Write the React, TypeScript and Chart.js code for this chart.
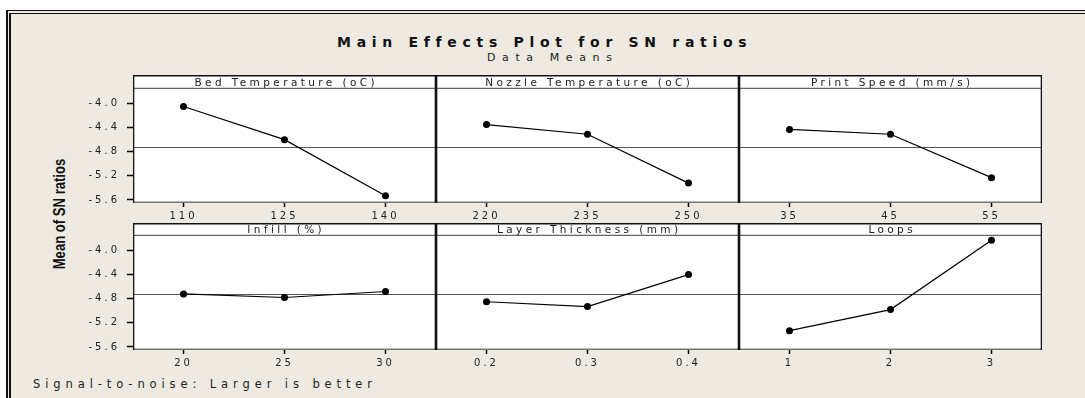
import React, { useEffect, useRef } from 'react';
import { Chart, registerables } from 'chart.js';

Chart.register(...registerables);

// ---------- data ----------
const PANEL_TITLES = [
  'Bed Temperature (oC)',
  'Nozzle Temperature (oC)',
  'Print Speed (mm/s)',
  'Infill (%)',
  'Layer Thickness (mm)',
  'Loops',
];
const BED_LEVELS = ['110', '125', '140'];
const BED_SN = [-4.05, -4.6, -5.53];
const NOZZLE_LEVELS = ['220', '235', '250'];
const NOZZLE_SN = [-4.35, -4.51, -5.32];
const SPEED_LEVELS = ['35', '45', '55'];
const SPEED_SN = [-4.43, -4.51, -5.23];
const INFILL_LEVELS = ['20', '25', '30'];
const INFILL_SN = [-4.72, -4.78, -4.68];
const LAYER_LEVELS = ['0.2', '0.3', '0.4'];
const LAYER_SN = [-4.85, -4.93, -4.4];
const LOOPS_LEVELS = ['1', '2', '3'];
const LOOPS_SN = [-5.33, -4.98, -3.83];

const Y_TICKS = [-5.6, -5.2, -4.8, -4.4, -4.0];
const Y_MIN = -5.65;
const Y_MAX = -3.76;

const ALL_SN = [...BED_SN, ...NOZZLE_SN, ...SPEED_SN, ...INFILL_SN, ...LAYER_SN, ...LOOPS_SN];
const OVERALL_MEAN = ALL_SN.reduce((a, b) => a + b, 0) / ALL_SN.length;

const TITLE = 'Main Effects Plot for SN ratios';
const SUBTITLE = 'Data Means';
const Y_TITLE = 'Mean of SN ratios';
const FOOTNOTE = 'Signal-to-noise: Larger is better';

// ---------- layout ----------
const COL_LEFT = [133, 436, 739];
const COL_W = 303;
const ROW_TOP = [75, 223];
const STRIP_H = [14, 13];
const PLOT_H = 114;
const CANVAS_H = [147, 150];
const Y_AXIS_W = 53;
const FONT = "'DejaVu Sans', Verdana, sans-serif";

const panelPlugin = {
  id: 'panelFrame',
  beforeDraw(chart: any) {
    const ctx = chart.ctx;
    const a = chart.chartArea;
    ctx.save();
    ctx.fillStyle = '#ffffff';
    ctx.fillRect(a.left, 0, a.right - a.left, a.bottom);
    ctx.restore();
    ctx.letterSpacing = '3px';
  },
  beforeDatasetsDraw(chart: any) {
    const ctx = chart.ctx;
    const a = chart.chartArea;
    const y = Math.round(chart.scales.y.getPixelForValue(OVERALL_MEAN)) + 0.5;
    ctx.save();
    ctx.strokeStyle = '#555';
    ctx.lineWidth = 1;
    ctx.beginPath();
    ctx.moveTo(a.left, y);
    ctx.lineTo(a.right, y);
    ctx.stroke();
    ctx.restore();
  },
  afterDraw(chart: any) {
    const ctx = chart.ctx;
    const a = chart.chartArea;
    const title = chart.options.plugins.panelFrame.title;
    ctx.save();
    // strip bottom
    ctx.strokeStyle = '#666';
    ctx.lineWidth = 1.2;
    ctx.beginPath();
    ctx.moveTo(a.left, a.top - 0.6);
    ctx.lineTo(a.right, a.top - 0.6);
    ctx.stroke();
    // bottom
    ctx.strokeStyle = '#777';
    ctx.lineWidth = 1.5;
    ctx.beginPath();
    ctx.moveTo(a.left, a.bottom - 0.75);
    ctx.lineTo(a.right, a.bottom - 0.75);
    ctx.stroke();
    // top
    ctx.strokeStyle = '#111';
    ctx.lineWidth = 1.5;
    ctx.beginPath();
    ctx.moveTo(a.left, 0.75);
    ctx.lineTo(a.right, 0.75);
    ctx.stroke();
    // sides
    ctx.lineWidth = 1.3;
    ctx.beginPath();
    ctx.moveTo(a.left + 0.65, 0);
    ctx.lineTo(a.left + 0.65, a.bottom);
    ctx.moveTo(a.right - 0.65, 0);
    ctx.lineTo(a.right - 0.65, a.bottom);
    ctx.stroke();
    // strip text
    ctx.letterSpacing = '3.4px';
    ctx.fillStyle = '#1a1a1a';
    ctx.font = `10.5px ${FONT}`;
    ctx.textAlign = 'center';
    ctx.textBaseline = 'middle';
    ctx.fillText(title, (a.left + a.right) / 2 + 1.7, a.top / 2 + 0.8);
    ctx.restore();
  },
};

type PanelProps = {
  title: string;
  labels: string[];
  values: number[];
  col: number;
  row: number;
};

function Panel({ title, labels, values, col, row }: PanelProps) {
  const ref = useRef<HTMLCanvasElement | null>(null);
  const showY = col === 0;
  const yW = showY ? Y_AXIS_W : 0;
  const left = COL_LEFT[col] - yW;
  const width = yW + COL_W;
  const height = CANVAS_H[row];
  const top = ROW_TOP[row];
  const stripH = STRIP_H[row];
  const axisH = height - stripH - PLOT_H;

  useEffect(() => {
    if (!ref.current) return;
    const chart = new Chart(ref.current, {
      type: 'line',
      data: {
        labels,
        datasets: [
          {
            data: values,
            borderColor: '#000',
            backgroundColor: '#000',
            borderWidth: 1.2,
            pointRadius: 3.5,
            pointBorderWidth: 0,
            pointBackgroundColor: '#000',
            tension: 0,
          },
        ],
      },
      options: {
        animation: false,
        responsive: false,
        maintainAspectRatio: false,
        events: [],
        layout: { padding: { top: stripH, left: 0, right: 0, bottom: 0 }, autoPadding: false },
        plugins: {
          legend: { display: false },
          tooltip: { enabled: false },
          title: { display: false },
          panelFrame: { title },
        } as any,
        scales: {
          x: {
            type: 'category',
            offset: true,
            grid: {
              display: true,
              offset: false,
              drawOnChartArea: false,
              drawTicks: true,
              tickLength: 4,
              color: '#000',
              tickWidth: 1.5,
            },
            border: { display: false },
            ticks: {
              font: { family: FONT, size: 10 },
              color: '#222',
              padding: 3,
              maxRotation: 0,
              autoSkip: false,
            },
            afterFit: (s: any) => {
              s.height = axisH;
            },
          },
          y: {
            type: 'linear',
            display: showY,
            min: Y_MIN,
            max: Y_MAX,
            afterBuildTicks: (s: any) => {
              s.ticks = Y_TICKS.map((v) => ({ value: v }));
            },
            grid: {
              display: true,
              drawOnChartArea: false,
              drawTicks: true,
              tickLength: 6,
              color: '#000',
              tickWidth: 1.5,
            },
            border: { display: false },
            ticks: {
              font: { family: FONT, size: 10 },
              color: '#222',
              padding: 7,
              callback: (v: any) => Number(v).toFixed(1),
            },
            afterFit: (s: any) => {
              s.width = yW;
            },
          },
        },
      },
      plugins: [panelPlugin],
    });
    return () => chart.destroy();
  }, []);

  return (
    <canvas
      ref={ref}
      width={width}
      height={height}
      style={{ position: 'absolute', left, top, width, height }}
    />
  );
}

export default function App() {
  const panels = [
    { title: PANEL_TITLES[0], labels: BED_LEVELS, values: BED_SN },
    { title: PANEL_TITLES[1], labels: NOZZLE_LEVELS, values: NOZZLE_SN },
    { title: PANEL_TITLES[2], labels: SPEED_LEVELS, values: SPEED_SN },
    { title: PANEL_TITLES[3], labels: INFILL_LEVELS, values: INFILL_SN },
    { title: PANEL_TITLES[4], labels: LAYER_LEVELS, values: LAYER_SN },
    { title: PANEL_TITLES[5], labels: LOOPS_LEVELS, values: LOOPS_SN },
  ];
  return (
    <div
      style={{
        position: 'absolute',
        left: 0,
        top: 0,
        width: 1085,
        height: 398,
        overflow: 'hidden',
        background: '#ffffff',
        fontFamily: FONT,
      }}
    >
      <div
        style={{
          position: 'absolute',
          left: 6,
          top: 10,
          width: 1100,
          height: 420,
          background: '#EEEAE1',
          borderLeft: '5px double #111',
          borderTop: '4px double #111',
        }}
      />
      <div
        style={{
          position: 'absolute',
          left: 337,
          top: 34,
          lineHeight: '16px',
          fontSize: 14,
          fontWeight: 'bold',
          letterSpacing: '5.7px',
          whiteSpace: 'nowrap',
          color: '#111',
        }}
      >
        {TITLE}
      </div>
      <div
        style={{
          position: 'absolute',
          left: 487,
          top: 51,
          lineHeight: '14px',
          fontSize: 11,
          letterSpacing: '6.6px',
          whiteSpace: 'nowrap',
          color: '#222',
        }}
      >
        {SUBTITLE}
      </div>
      <div
        style={{
          position: 'absolute',
          left: 60,
          top: 214,
          transform: 'translate(-50%, -50%) rotate(-90deg) scale(0.77, 1)',
          fontFamily: "'Liberation Sans', Arial, sans-serif",
          fontWeight: 'bold',
          fontSize: 17,
          lineHeight: '18px',
          whiteSpace: 'nowrap',
          color: '#111',
        }}
      >
        {Y_TITLE}
      </div>
      <div
        style={{
          position: 'absolute',
          left: 33,
          top: 377,
          lineHeight: '14px',
          fontSize: 11.5,
          letterSpacing: '4.9px',
          whiteSpace: 'nowrap',
          color: '#222',
        }}
      >
        {FOOTNOTE}
      </div>
      {panels.map((p, i) => (
        <Panel key={i} title={p.title} labels={p.labels} values={p.values} col={i % 3} row={Math.floor(i / 3)} />
      ))}
    </div>
  );
}
